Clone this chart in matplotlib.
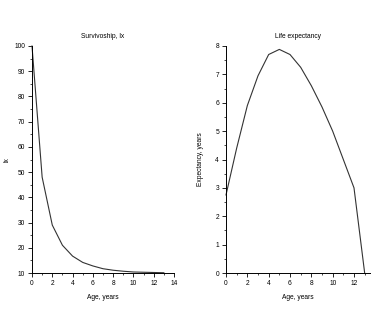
import matplotlib.pyplot as plt
import numpy as np
from matplotlib.ticker import MultipleLocator, FixedLocator

age = [0, 1, 2, 3, 4, 5, 6, 7, 8, 9, 10, 11, 12, 13]
lx = [100, 48, 29, 21, 16.7, 14.2, 12.8, 11.7, 11.1, 10.7, 10.4, 10.3, 10.2, 10.1]
ex = [2.75, 4.4, 5.9, 6.95, 7.7, 7.88, 7.7, 7.25, 6.6, 5.85, 5.0, 4.0, 3.0, 0]

W, H = 371, 311
fig = plt.figure(figsize=(W / 100, H / 100), dpi=100)
plt.rcParams['font.family'] = ['Liberation Sans', 'DejaVu Sans']
fs = 4.8

def style(ax):
    for s in ['top', 'right']:
        ax.spines[s].set_visible(False)
    for s in ['left', 'bottom']:
        ax.spines[s].set_linewidth(0.7)
    ax.tick_params(which='major', length=3, width=0.6, labelsize=fs, pad=2)
    ax.tick_params(which='minor', length=1.5, width=0.5)

# left panel: survivorship
ax1 = fig.add_axes([32 / W, 1 - 273 / H, 142 / W, 227 / H])
ax1.plot(age, lx, color='#333333', lw=0.8, clip_on=False)
ax1.set_xlim(0, 14)
ax1.set_ylim(10, 100)
ax1.xaxis.set_major_locator(MultipleLocator(2))
ax1.xaxis.set_minor_locator(MultipleLocator(1))
ax1.yaxis.set_major_locator(MultipleLocator(10))
ax1.yaxis.set_minor_locator(MultipleLocator(5))
ax1.set_title('Survivoship, lx', fontsize=fs, pad=6)
ax1.set_xlabel('Age, years', fontsize=fs, labelpad=5)
ax1.set_ylabel('lx', fontsize=fs, labelpad=3)
style(ax1)

# right panel: life expectancy (axis runs past the figure edge)
ax2 = fig.add_axes([226 / W, 1 - 273 / H, 144 / W, 227 / H])
ax2.plot(age, ex, color='#333333', lw=0.8, clip_on=False)
ax2.set_xlim(0, 13.5)
ax2.set_ylim(0, 8)
ax2.xaxis.set_major_locator(FixedLocator([0, 2, 4, 6, 8, 10, 12]))
ax2.xaxis.set_minor_locator(FixedLocator([1, 3, 5, 7, 9, 11, 13]))
ax2.yaxis.set_major_locator(MultipleLocator(1))
ax2.yaxis.set_minor_locator(MultipleLocator(0.5))
ax2.set_title('Life expectancy', fontsize=fs, pad=6)
ax2.set_xlabel('Age, years', fontsize=fs, labelpad=5)
ax2.set_ylabel('Expectancy, years', fontsize=fs, labelpad=8)
style(ax2)

fig.savefig('out.png', dpi=100)
